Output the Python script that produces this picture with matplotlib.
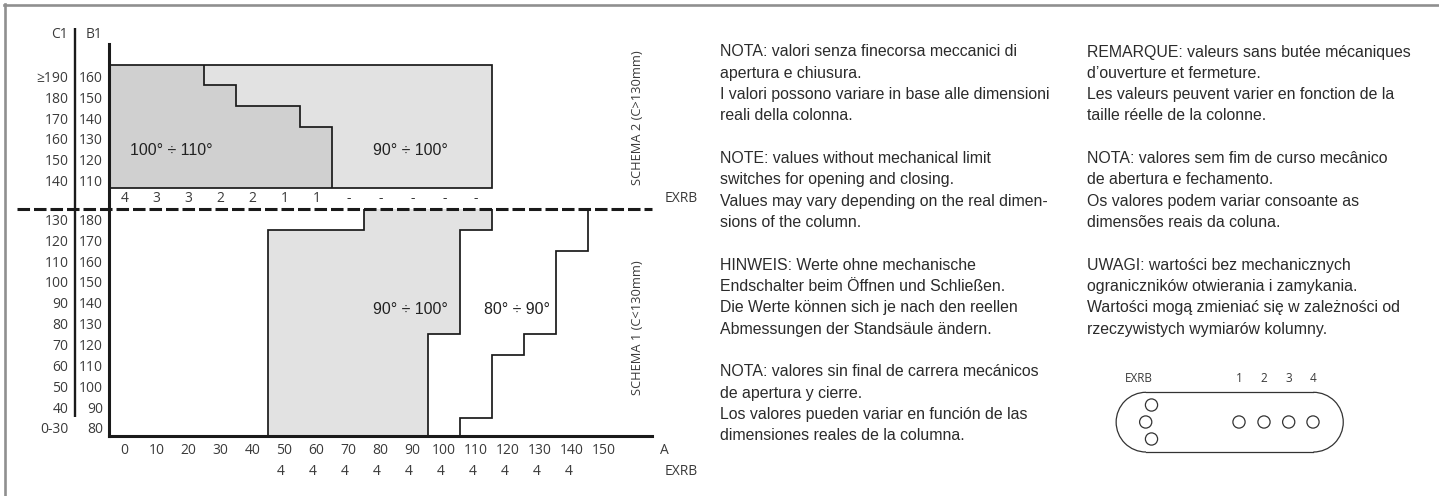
import matplotlib
matplotlib.use('Agg')
import matplotlib.pyplot as plt
from matplotlib.patches import Arc, Circle
from matplotlib.transforms import ScaledTranslation

# tick labels
a_ticks = [0, 10, 20, 30, 40, 50, 60, 70, 80, 90, 100, 110, 120, 130, 140, 150]
exrb_lower_a = [50, 60, 70, 80, 90, 100, 110, 120, 130, 140]
exrb_lower = ['4', '4', '4', '4', '4', '4', '4', '4', '4', '4']
exrb_upper_a = [0, 10, 20, 30, 40, 50, 60, 70, 80, 90, 100, 110]
exrb_upper = ['4', '3', '3', '2', '2', '1', '1', '-', '-', '-', '-', '-']
b1_upper = [110, 120, 130, 140, 150, 160]
c1_upper = ['140', '150', '160', '170', '180', '≥190']
b1_lower = [80, 90, 100, 110, 120, 130, 140, 150, 160, 170, 180]
c1_lower = ['0-30', '40', '50', '60', '70', '80', '90', '100', '110', '120', '130']

# schema 2: limit of the dark zone for each B1 row, light zone ends at A=115
upper_edges = [105, 115, 125, 135, 145, 155, 165]
upper_dark_a = [65, 65, 65, 55, 35, 25]
upper_light_a = [115, 115, 115, 115, 115, 115]

# schema 1: limits for each B1 row
lower_edges = [75, 85, 95, 105, 115, 125, 135, 145, 155, 165, 175, 185]
lower_grey_from = [45, 45, 45, 45, 45, 45, 45, 45, 45, 45, 75]
lower_grey_to = [95, 95, 95, 95, 95, 105, 105, 105, 105, 105, 115]
lower_white_to = [105, 115, 115, 115, 125, 135, 135, 135, 135, 145, 145]

notes_left = [
    'NOTA: valori senza finecorsa meccanici di',
    'apertura e chiusura.',
    'I valori possono variare in base alle dimensioni',
    'reali della colonna.',
    '',
    'NOTE: values without mechanical limit',
    'switches for opening and closing.',
    'Values may vary depending on the real dimen-',
    'sions of the column.',
    '',
    'HINWEIS: Werte ohne mechanische',
    'Endschalter beim Öffnen und Schließen.',
    'Die Werte können sich je nach den reellen',
    'Abmessungen der Standsäule ändern.',
    '',
    'NOTA: valores sin final de carrera mecánicos',
    'de apertura y cierre.',
    'Los valores pueden variar en función de las',
    'dimensiones reales de la columna.',
]
notes_right = [
    'REMARQUE: valeurs sans butée mécaniques',
    "d’ouverture et fermeture.",
    'Les valeurs peuvent varier en fonction de la',
    'taille réelle de la colonne.',
    '',
    'NOTA: valores sem fim de curso mecânico',
    'de abertura e fechamento.',
    'Os valores podem variar consoante as',
    'dimensões reais da coluna.',
    '',
    'UWAGI: wartości bez mechanicznych',
    'ograniczników otwierania i zamykania.',
    'Wartości mogą zmieniać się w zależności od',
    'rzeczywistych wymiarów kolumny.',
]

W, H = 1439, 496
DARK = '#d0d0d0'
LIGHT = '#e2e2e2'
LINE = '#1a1a1a'
TXT = '#3a3a3a'
OPEN = 'Open Sans'
ARIAL = 'Liberation Sans'
FS = 10


def px_axes(x0, y0, x1, y1):
    return fig.add_axes([x0 / W, 1 - y1 / H, (x1 - x0) / W, (y1 - y0) / H])


fig = plt.figure(figsize=(W / 100, H / 100), dpi=100)

# upper diagram
ax_up = px_axes(108.5, 44, 652, 209)
ax_up.set_xlim(-5, 165)
ax_up.set_ylim(95, 175)
ax_up.stairs(upper_light_a, upper_edges, orientation='horizontal', baseline=-5, fill=True, color=LIGHT)
ax_up.stairs(upper_dark_a, upper_edges, orientation='horizontal', baseline=-5, fill=True, color=DARK)
ax_up.stairs(upper_light_a, upper_edges, orientation='horizontal', baseline=-5, color=LINE, lw=1.25)
ax_up.stairs(upper_dark_a, upper_edges, orientation='horizontal', baseline=None, color=LINE, lw=1.25)
ax_up.set_yticks(b1_upper)
ax_up.set_xticks([])
ax_up.tick_params(axis='y', length=0, pad=4, labelsize=FS, labelcolor=TXT)
for a, v in zip(exrb_upper_a, exrb_upper):
    ax_up.text(a, 100, v, ha='center', va='center', fontsize=FS, color=TXT, family=OPEN)
ax_up.text(14.7, 123.6, '100° ÷ 110°', ha='center', va='center', fontsize=11.4, color='#222222', family=ARIAL)
ax_up.text(89.5, 123.6, '90° ÷ 100°', ha='center', va='center', fontsize=11.4, color='#222222', family=ARIAL)

# lower diagram
ax_lo = px_axes(108.5, 209, 652, 436.3)
ax_lo.set_xlim(-5, 165)
ax_lo.set_ylim(76, 185)
ax_lo.stairs(lower_grey_to, lower_edges, orientation='horizontal', baseline=lower_grey_from, fill=True, color=LIGHT)
ax_lo.stairs(lower_grey_to, lower_edges, orientation='horizontal', baseline=None, color=LINE, lw=1.25)
ax_lo.stairs(lower_grey_from, lower_edges, orientation='horizontal', baseline=None, color=LINE, lw=1.25)
ax_lo.stairs(lower_white_to, lower_edges, orientation='horizontal', baseline=None, color=LINE, lw=1.25)
ax_lo.set_yticks(b1_lower)
ax_lo.set_xticks(a_ticks)
ax_lo.tick_params(axis='both', length=0, labelsize=FS, labelcolor=TXT)
ax_lo.tick_params(axis='y', pad=4)
ax_lo.tick_params(axis='x', pad=5)
for a, v in zip(exrb_lower_a, exrb_lower):
    ax_lo.text(a - 1.2, 59, v, ha='center', va='center', fontsize=FS, color=TXT, family=OPEN)
ax_lo.text(89.5, 136.6, '90° ÷ 100°', ha='center', va='center', fontsize=11.4, color='#222222', family=ARIAL)
ax_lo.text(122.7, 136.6, '80° ÷ 90°', ha='center', va='center', fontsize=11.4, color='#222222', family=ARIAL)

# the upper row labels sit 2px under their rows
down2 = ScaledTranslation(0, -2 / 100, fig.dpi_scale_trans)
for ax, b1, c1, shift in [(ax_up, b1_upper, c1_upper, True), (ax_lo, b1_lower, c1_lower, False)]:
    for lab in ax.get_yticklabels() + ax.get_xticklabels():
        lab.set_family(OPEN)
    if shift:
        for lab in ax.get_yticklabels():
            lab.set_transform(lab.get_transform() + down2)
    for s in ['top', 'right']:
        ax.spines[s].set_visible(False)
    ax.spines['left'].set_linewidth(2.2)
    ax.spines['left'].set_color(LINE)
    tr = ax.get_yaxis_transform() + down2 if shift else ax.get_yaxis_transform()
    for y, c in zip(b1, c1):
        ax.text(-0.0737, y, c, transform=tr, ha='right', va='center_baseline',
                fontsize=FS, color=TXT, family=OPEN)
ax_up.spines['bottom'].set_visible(False)
ax_lo.spines['bottom'].set_linewidth(2.2)
ax_lo.spines['bottom'].set_color(LINE)

# page overlay in pixels: frame, dashed line, notes and connector sketch
ov = fig.add_axes([0, 0, 1, 1], facecolor='none')
ov.set_xlim(0, W)
ov.set_ylim(H, 0)
ov.axis('off')
ov.plot([5, 5], [4, H], color='#8f8f8f', lw=1.9)
ov.plot([4, W], [4.5, 4.5], color='#8f8f8f', lw=1.9)
ov.plot([75, 75], [28, 417], color=LINE, lw=1.7, solid_capstyle='butt')
ov.plot([17, 652], [209, 209], color=LINE, lw=2.2, dashes=(4.1, 1.3))

ov.text(68, 35, 'C1', ha='right', va='center', fontsize=FS, color=TXT, family=OPEN)
ov.text(86, 35, 'B1', ha='left', va='center', fontsize=FS, color=TXT, family=OPEN)
ov.text(660, 450, 'A', ha='left', va='center', fontsize=FS, color=TXT, family=OPEN)
ov.text(665, 199, 'EXRB', ha='left', va='center', fontsize=FS, color=TXT, family=OPEN)
ov.text(665, 471.7, 'EXRB', ha='left', va='center', fontsize=FS, color=TXT, family=OPEN)
ov.text(637.7, 117.5, 'SCHEMA 2 (C>130mm)', rotation=90, ha='center', va='center', fontsize=9.25, color=TXT, family=OPEN)
ov.text(637.7, 328, 'SCHEMA 1 (C<130mm)', rotation=90, ha='center', va='center', fontsize=9.25, color=TXT, family=OPEN)

for x, lines in [(720.5, notes_left), (1086.7, notes_right)]:
    for i, line in enumerate(lines):
        ov.text(x, 52 + 21.33 * i, line, ha='left', va='center', fontsize=11.45, color='#2b2b2b', family=ARIAL)

# connector outline: two half circles joined by straight lines
ov.plot([1146, 1313.4], [392.3, 392.3], color='#333333', lw=0.9)
ov.plot([1146, 1313.4], [452, 452], color='#333333', lw=0.9)
ov.add_patch(Arc((1146, 422.15), 59.7, 59.7, theta1=90, theta2=270, ec='#333333', lw=0.9))
ov.add_patch(Arc((1313.4, 422.15), 59.7, 59.7, theta1=270, theta2=90, ec='#333333', lw=0.9))
hole_x = [1151.5, 1145.7, 1151.5, 1239, 1264, 1288.7, 1313]
hole_y = [405, 422, 439, 422, 422, 422, 422]
for x, y in zip(hole_x, hole_y):
    ov.add_patch(Circle((x, y), 6.1, fc='none', ec='#333333', lw=0.9))
ov.text(1138.5, 378.3, 'EXRB', ha='center', va='center', fontsize=8.5, color=TXT, family=OPEN)
for x, t in zip(hole_x[3:], ['1', '2', '3', '4']):
    ov.text(x, 378.3, t, ha='center', va='center', fontsize=8.5, color=TXT, family=OPEN)

fig.savefig('out.png', dpi=100)
